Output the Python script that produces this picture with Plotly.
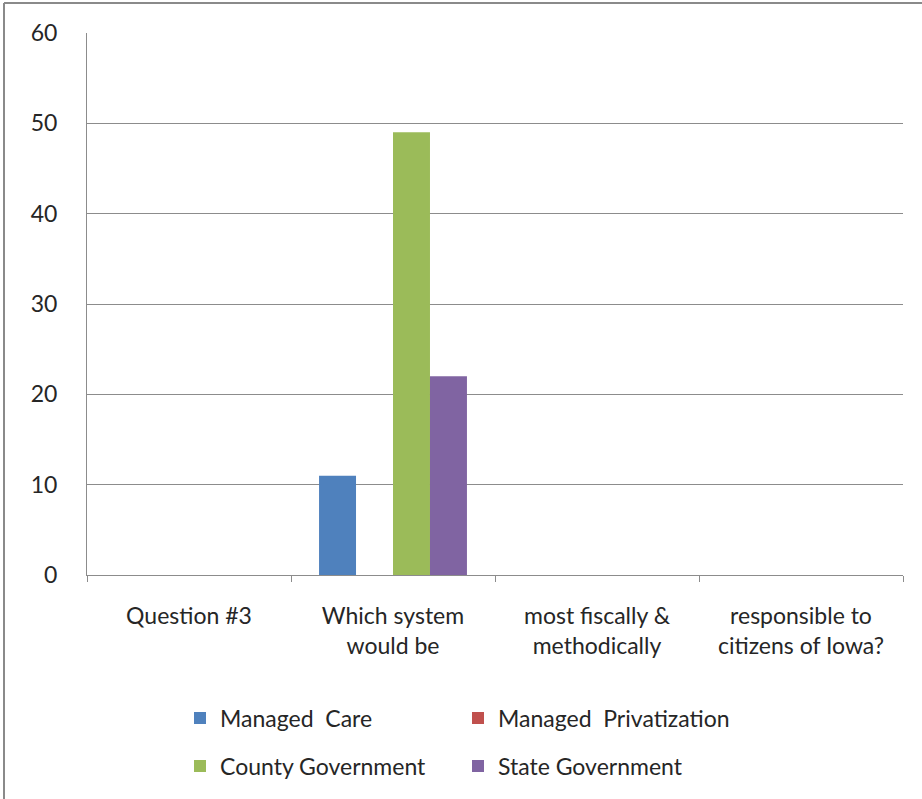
import plotly.graph_objects as go

# Survey responses to Question #3, split across four category labels
categories = [
    "Question #3",
    "Which system<br>would be",
    "most fiscally &<br>methodically",
    "responsible to<br>citizens of Iowa?",
]
managed_care = [0, 11, 0, 0]
managed_privatization = [0, 0, 0, 0]
county_government = [0, 49, 0, 0]
state_government = [0, 22, 0, 0]

series = [
    ("Managed  Care", managed_care, "#4F81BD", "legend"),
    ("Managed  Privatization", managed_privatization, "#C0504D", "legend"),
    ("County Government", county_government, "#9BBB59", "legend2"),
    ("State Government", state_government, "#8064A2", "legend2"),
]

FONT = "Lato"
FS = 23
TEXT = "#262626"
GRID = "#8c8c8c"

fig = go.Figure()
for name, vals, color, leg in series:
    fig.add_trace(go.Bar(
        x=categories, y=vals, name=name, marker_color=color,
        marker_line_width=0, legend=leg,
    ))

W, H = 922, 799
L, R, T, B = 87, 19, 33, 224
pw, ph = W - L - R, H - T - B


def px_x(x):
    return (x - L) / pw


def px_y(y):
    return (H - B - y) / ph


legend_style = dict(
    orientation="h", xanchor="left", yanchor="middle",
    font=dict(family=FONT, size=FS, color=TEXT),
    entrywidth=233, entrywidthmode="pixels",
    bgcolor="rgba(0,0,0,0)", itemclick=False,
)

fig.update_layout(
    width=W, height=H,
    margin=dict(l=L, r=R, t=T, b=B),
    paper_bgcolor="white", plot_bgcolor="white",
    barmode="group", bargap=0.275, bargroupgap=0,
    font=dict(family=FONT, size=FS, color=TEXT),
    legend=dict(x=px_x(180), y=px_y(718), **legend_style),
    legend2=dict(x=px_x(180), y=px_y(766), **legend_style),
    showlegend=True,
    shapes=[
        # outer frame (top and left edges)
        dict(type="line", xref="paper", yref="paper",
             x0=px_x(4), x1=px_x(W + 5), y0=px_y(3), y1=px_y(3),
             line=dict(color="#8a8a8a", width=2)),
        dict(type="line", xref="paper", yref="paper",
             x0=px_x(4), x1=px_x(4), y0=px_y(3), y1=px_y(H + 5),
             line=dict(color="#8a8a8a", width=2)),
    ],
)

fig.update_yaxes(
    range=[0, 60], dtick=10, showgrid=True, gridcolor=GRID, gridwidth=1,
    showline=True, linecolor=GRID, linewidth=1, zeroline=False,
    ticks="", ticklabelstandoff=24,
    tickfont=dict(family=FONT, size=FS, color=TEXT),
    fixedrange=True,
)
fig.update_xaxes(
    showline=True, linecolor=GRID, linewidth=1,
    ticks="outside", tickson="boundaries", ticklen=6, tickcolor=GRID,
    ticklabelstandoff=20,
    tickfont=dict(family=FONT, size=FS, color=TEXT),
    fixedrange=True,
)

fig.write_html("out.html")
